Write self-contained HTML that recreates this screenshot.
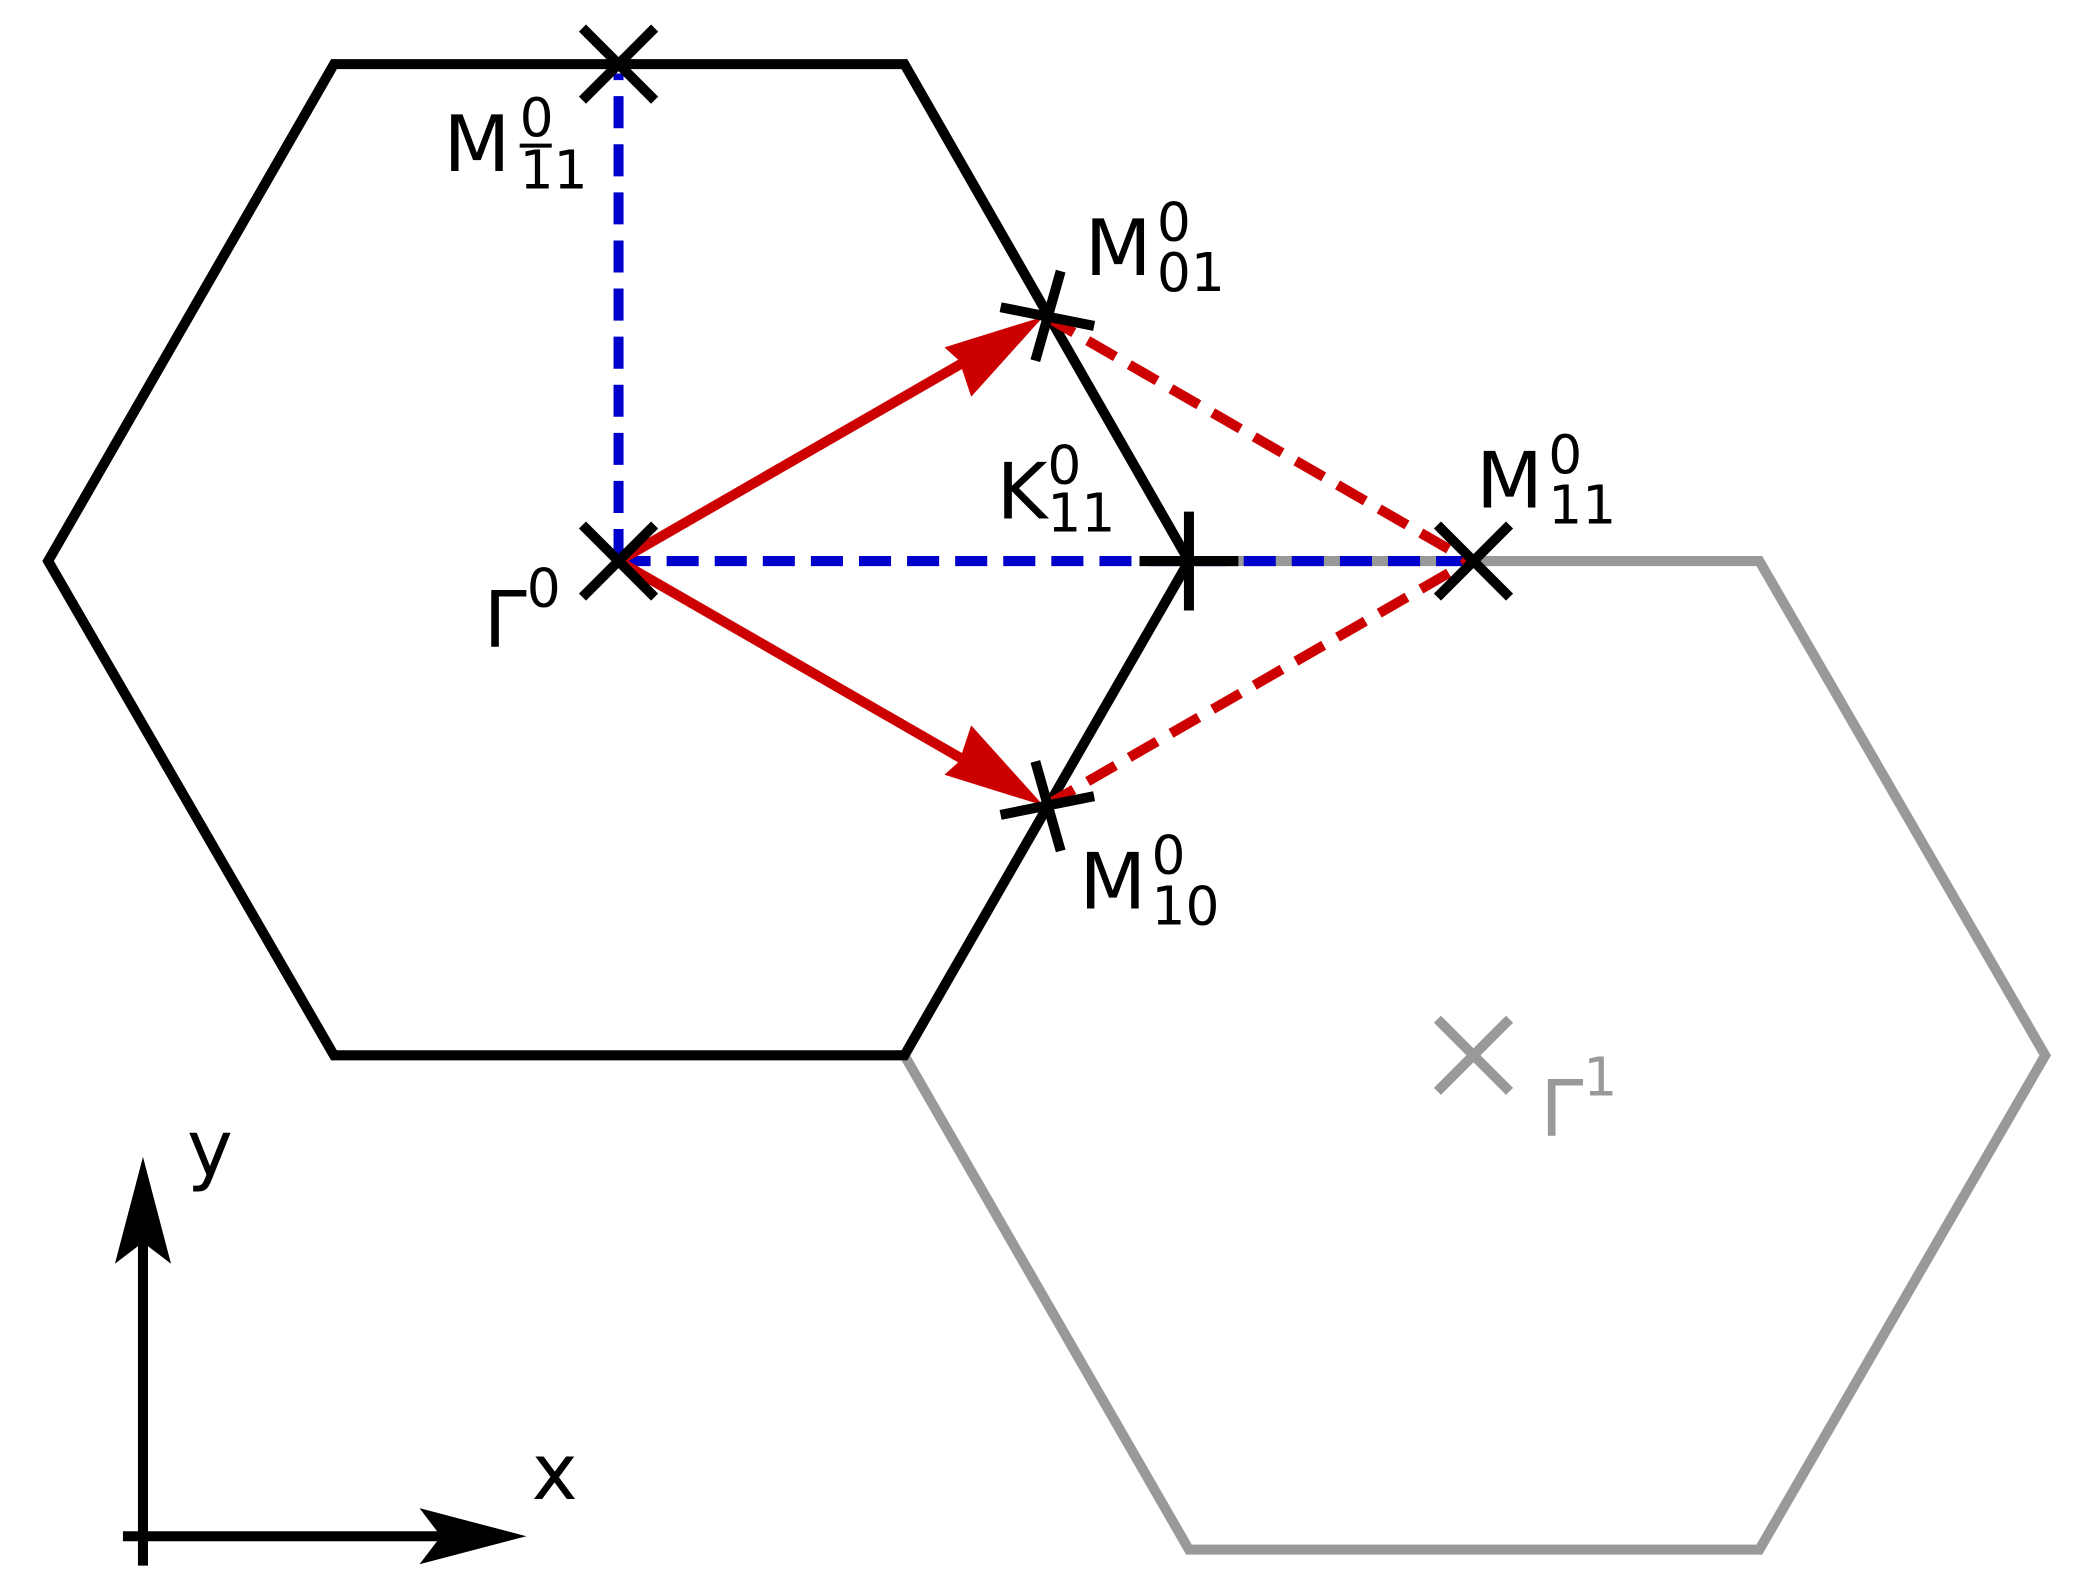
<!DOCTYPE html>
<html><head><meta charset="utf-8"><style>
html,body{margin:0;padding:0;background:#fff;}
svg{display:block}
text{font-family:"DejaVu Sans","Liberation Sans",sans-serif;}
</style></head><body>
<svg width="2084" height="1593" viewBox="0 0 1560 1192.5" xmlns="http://www.w3.org/2000/svg">
<polyline points="890,420 1317,420 1531,790 1317,1160 890,1160 677,790" fill="none" stroke="#999" stroke-width="7.5"/>
<polygon points="36,420 250,48 677,48 890,420 677,790 250,790" fill="none" stroke="#000" stroke-width="7.5"/>
<line x1="463" y1="420" x2="463" y2="55" stroke="#0000cc" stroke-width="7.5" stroke-dasharray="24,12"/>
<line x1="463" y1="420" x2="1100" y2="420" stroke="#0000cc" stroke-width="7.5" stroke-dasharray="24,12"/>
<line x1="783" y1="237" x2="1100" y2="420" stroke="#cc0000" stroke-width="7.5" stroke-dasharray="24,12"/>
<line x1="783" y1="603" x2="1100" y2="420" stroke="#cc0000" stroke-width="7.5" stroke-dasharray="24,12"/>
<line x1="463" y1="420" x2="760" y2="249" stroke="#cc0000" stroke-width="7.5"/>
<polygon points="781,237 707,260 718,270 727,297" fill="#cc0000"/>
<line x1="463" y1="420" x2="760" y2="591" stroke="#cc0000" stroke-width="7.5"/>
<polygon points="781,603 707,580 718,570 727,543" fill="#cc0000"/>
<g stroke="#000" stroke-width="7.5">
<line x1="436" y1="21" x2="490" y2="75"/><line x1="490" y1="21" x2="436" y2="75"/>
<line x1="436" y1="393" x2="490" y2="447"/><line x1="490" y1="393" x2="436" y2="447"/>
<line x1="1076" y1="393" x2="1130" y2="447"/><line x1="1130" y1="393" x2="1076" y2="447"/>
<line x1="890" y1="383" x2="890" y2="457"/><line x1="853" y1="420" x2="927" y2="420"/>
<line x1="749" y1="230" x2="819" y2="244"/><line x1="794" y1="203" x2="775" y2="270"/>
<line x1="749" y1="610" x2="819" y2="596"/><line x1="794" y1="637" x2="775" y2="570"/>
</g>
<g stroke="#999" stroke-width="7.5">
<line x1="1076" y1="763" x2="1130" y2="817"/><line x1="1130" y1="763" x2="1076" y2="817"/>
</g>
<line x1="107" y1="1172" x2="107" y2="900" stroke="#000" stroke-width="7.5"/>
<polygon points="107,866 86,946 107,930 128,946" fill="#000"/>
<line x1="92" y1="1150" x2="360" y2="1150" stroke="#000" stroke-width="7.5"/>
<polygon points="394,1150 314,1129 330,1150 314,1171" fill="#000"/>
<g font-size="58" fill="#000">
<text x="140" y="880">y</text>
<text x="398" y="1122">x</text>
<text x="362" y="484">Γ<tspan font-size="40" dy="-30">0</tspan></text>
<text x="332" y="128">M</text>
<text x="389" y="102" font-size="40">0</text>
<line x1="389" y1="109" x2="413" y2="109" stroke="#000" stroke-width="3"/>
<text x="389" y="141" font-size="40">11</text>
<text x="812" y="206">M</text><text x="866" y="180" font-size="40">0</text><text x="866" y="218" font-size="40">01</text>
<text x="808" y="680">M</text><text x="862" y="654" font-size="40">0</text><text x="862" y="692" font-size="40">10</text>
<text x="1105" y="380">M</text><text x="1159" y="354" font-size="40">0</text><text x="1159" y="392" font-size="40">11</text>
<text x="746" y="388">K</text><text x="784" y="362" font-size="40">0</text><text x="784" y="398" font-size="40">11</text>
</g>
<text x="1153" y="850" font-size="58" fill="#999">Γ<tspan font-size="40" dy="-30">1</tspan></text>
</svg>
</body></html>
